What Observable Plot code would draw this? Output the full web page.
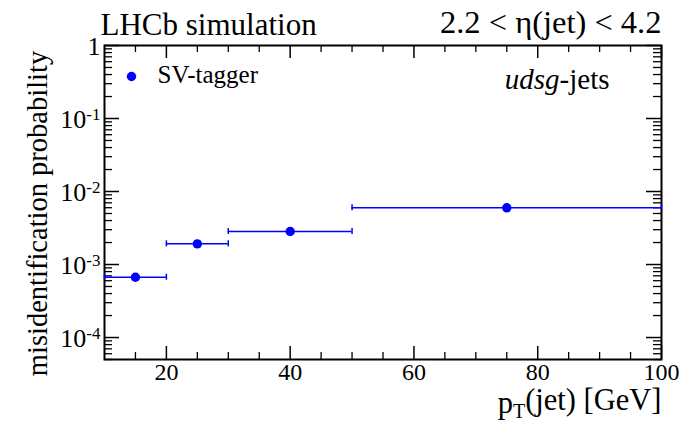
<!DOCTYPE html>
<html><head><meta charset="utf-8">
<script src="https://cdn.jsdelivr.net/npm/d3@7"></script>
<script src="https://cdn.jsdelivr.net/npm/@observablehq/plot@0.6"></script>
<style>body{margin:0;background:#fff}</style>
</head><body><div id="chart"></div>
<script>
const binLow = [10, 20, 30, 50];
const binHigh = [20, 30, 50, 100];
const binCenter = [15, 25, 40, 75];
const misidProb = [6.7e-4, 1.92e-3, 2.83e-3, 5.98e-3];
const yMajorTicks = [1e-4, 1e-3, 1e-2, 1e-1, 1];
const yTickExp = ["-4", "-3", "-2", "-1", ""];
const xMajorTicks = [20, 40, 60, 80, 100];
const xMinorTicks = [15, 25, 30, 35, 45, 50, 55, 65, 70, 75, 85, 90, 95];
const titleLeft = "LHCb simulation";
const titleRight = "2.2 < η(jet) < 4.2";
const legendLabel = "SV-tagger";
const sampleLabel = "udsg-jets";

const W = 683, H = 425;
const mL = 104, mR = 22, mT = 45, mB = 66;
const FW = W - mL - mR, FH = H - mT - mB;

const data = binCenter.map((c, i) => ({c, lo: binLow[i], hi: binHigh[i], p: misidProb[i]}));
const yMinor = [];
for (let e = -5; e <= -1; e++) for (let m = 2; m <= 9; m++) {
  const v = m * Math.pow(10, e);
  if (v >= 5e-5 && v <= 1) yMinor.push(v);
}
const yLabels = yMajorTicks.map((v, i) => ({v, e: yTickExp[i]}));
const blue = "#0000ff";

const chart = Plot.plot({
  width: W, height: H,
  marginLeft: mL, marginRight: mR, marginTop: mT, marginBottom: mB,
  style: {fontFamily: "'Liberation Serif', serif", background: "white"},
  x: {domain: [10, 100], axis: null},
  y: {type: "log", domain: [5e-5, 1], axis: null},
  marks: [
    Plot.tickY(yMinor, {y: d => d, insetRight: FW - 8, stroke: "black", strokeWidth: 1.3}),
    Plot.tickY(yMinor, {y: d => d, insetLeft: FW - 8, stroke: "black", strokeWidth: 1.3}),
    Plot.tickY(yMajorTicks, {y: d => d, insetRight: FW - 15, stroke: "black", strokeWidth: 1.5}),
    Plot.tickY(yMajorTicks, {y: d => d, insetLeft: FW - 15, stroke: "black", strokeWidth: 1.5}),
    Plot.tickX(xMinorTicks, {x: d => d, insetTop: FH - 7, stroke: "black", strokeWidth: 1.3}),
    Plot.tickX(xMinorTicks, {x: d => d, insetBottom: FH - 7, stroke: "black", strokeWidth: 1.3}),
    Plot.tickX(xMajorTicks, {x: d => d, insetTop: FH - 13, stroke: "black", strokeWidth: 1.5}),
    Plot.tickX(xMajorTicks, {x: d => d, insetBottom: FH - 13, stroke: "black", strokeWidth: 1.5}),
    Plot.frame({stroke: "black", strokeWidth: 2}),
    Plot.text(xMajorTicks, {x: d => d, frameAnchor: "bottom", dy: 20, lineAnchor: "bottom", text: d => String(d), fontSize: 24, fill: "black"}),
    Plot.text(yLabels, {y: "v", frameAnchor: "left", dx: -4, dy: 1, textAnchor: "end", lineAnchor: "middle", text: d => d.e ? "10^" + d.e : "1", fontSize: 26, fill: "black", className: "ylab"}),
    Plot.ruleY(data, {y: "p", x1: "lo", x2: "hi", stroke: blue, strokeWidth: 1.5}),
    Plot.ruleX(data, {x: "lo", y1: "p", y2: "p", insetTop: -3, insetBottom: -3, stroke: blue, strokeWidth: 1.5}),
    Plot.ruleX(data, {x: "hi", y1: "p", y2: "p", insetTop: -3, insetBottom: -3, stroke: blue, strokeWidth: 1.5}),
    Plot.dot(data, {x: "c", y: "p", r: 4.7, fill: blue}),
    Plot.dot([legendLabel], {frameAnchor: "top-left", dx: 27, dy: 31, r: 4.7, fill: blue}),
    Plot.text([legendLabel], {frameAnchor: "top-left", dx: 53, dy: 37, textAnchor: "start", lineAnchor: "bottom", text: d => d, fontSize: 25, fill: "black"}),
    Plot.text([sampleLabel], {frameAnchor: "top-right", dx: -52, dy: 43, textAnchor: "end", lineAnchor: "bottom", text: d => d, fontSize: 29, fill: "black", className: "sample"}),
    Plot.text([titleLeft], {frameAnchor: "top-left", dx: -4, dy: -11, textAnchor: "start", lineAnchor: "bottom", text: d => d, fontSize: 31, fill: "black"}),
    Plot.text([titleRight], {frameAnchor: "top-right", dx: 0, dy: -13, textAnchor: "end", lineAnchor: "bottom", text: d => d, fontSize: 32.5, fill: "black"}),
    Plot.text(["misidentification probability"], {frameAnchor: "left", dx: -67, dy: 11, rotate: -90, textAnchor: "middle", lineAnchor: "middle", text: d => d, fontSize: 28.5, fill: "black"}),
    Plot.text(["pT(jet) [GeV]"], {frameAnchor: "bottom-right", dy: 53, dx: 0, textAnchor: "end", lineAnchor: "bottom", text: d => d, fontSize: 30.5, fill: "black", className: "xtitle"})
  ]
});
document.getElementById("chart").appendChild(chart);

d3.select(chart).selectAll("g.ylab text").each(function() {
  const t = this.textContent;
  if (t.includes("^")) {
    const [b, e] = t.split("^");
    this.textContent = "";
    d3.select(this).append("tspan").text(b);
    d3.select(this).append("tspan").attr("dy", "-0.45em").attr("font-size", 17).text(e);
  }
});
d3.select(chart).selectAll("g.sample text").each(function() {
  this.textContent = "";
  d3.select(this).append("tspan").attr("font-style", "italic").text("udsg");
  d3.select(this).append("tspan").text("-jets");
});
d3.select(chart).selectAll("g.xtitle text").each(function() {
  this.textContent = "";
  d3.select(this).append("tspan").text("p");
  d3.select(this).append("tspan").attr("dy", "0.25em").attr("font-size", 20).text("T");
  d3.select(this).append("tspan").attr("dy", "-0.25em").text("(jet) [GeV]");
});
</script></body></html>
